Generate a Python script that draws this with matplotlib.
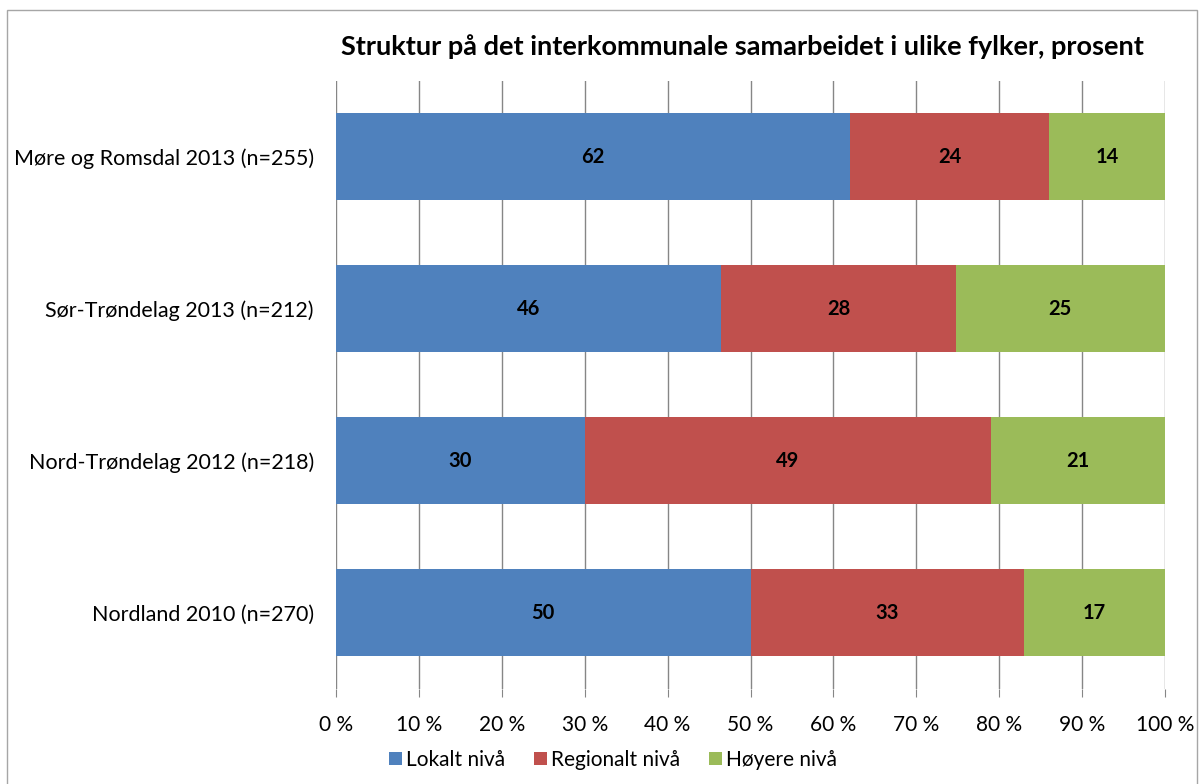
import numpy as np
import matplotlib.pyplot as plt
from matplotlib.patches import Rectangle

categories = ["Møre og Romsdal 2013 (n=255)", "Sør-Trøndelag 2013 (n=212)",
              "Nord-Trøndelag 2012 (n=218)", "Nordland 2010 (n=270)"]
series_names = ["Lokalt nivå", "Regionalt nivå", "Høyere nivå"]
lokalt = [62, 46, 30, 50]
regionalt = [24, 28, 49, 33]
hoyere = [14, 25, 21, 17]
colors = ["#4F81BD", "#C0504D", "#9BBB59"]
xticks = np.arange(0, 101, 10)
xtick_labels = [f"{t} %" for t in xticks]

plt.rcParams['font.family'] = ['Lato', 'DejaVu Sans']

fig = plt.figure(figsize=(12.03, 7.84), dpi=100)
ax = fig.add_axes([336 / 1203, 1 - 689 / 784, 829 / 1203, 608.5 / 784])

data = np.array([lokalt, regionalt, hoyere], dtype=float)
shares = data / data.sum(axis=0) * 100
y = np.arange(len(categories))
left = np.zeros(len(categories))
for vals, shr, name, c in zip(data, shares, series_names, colors):
    ax.barh(y, shr, left=left, height=0.572, color=c, label=name, zorder=3)
    for yi, v, l, s in zip(y, vals, left, shr):
        ax.text(l + s / 2, yi, f"{int(v)}", ha="center", va="center",
                fontsize=14.5, fontweight="bold", color="black", zorder=4)
    left += shr

ax.set_xlim(0, 100)
ax.set_ylim(len(categories) - 0.5, -0.5)
ax.set_yticks(y)
ax.set_yticklabels(categories, fontsize=15.5)
ax.set_xticks(xticks)
ax.set_xticklabels(xtick_labels, fontsize=15)
ax.tick_params(axis="y", length=0, pad=16)
ax.tick_params(axis="x", length=6, color="#868686", pad=13)
ax.grid(True, axis="x", color="#868686", linewidth=1, zorder=0)
for s in ax.spines.values():
    s.set_visible(False)

fig.suptitle("Struktur på det interkommunale samarbeidet i ulike fylker, prosent",
             x=742 / 1203, y=1 - 47 / 784, va="center", fontsize=19.5, fontweight="bold")

fig.legend(loc="center", bbox_to_anchor=(613 / 1203, 1 - 760 / 784), ncol=3, frameon=False,
           fontsize=15, handlelength=0.6, handleheight=0.6, handletextpad=0.2, columnspacing=1.4)

fig.patches.append(Rectangle((7 / 1203, -0.01), 1190 / 1203, 1 - 10 / 784 + 0.01,
                             transform=fig.transFigure, fill=False, edgecolor="#A6A6A6", linewidth=1))

fig.savefig("out.png", dpi=100)
